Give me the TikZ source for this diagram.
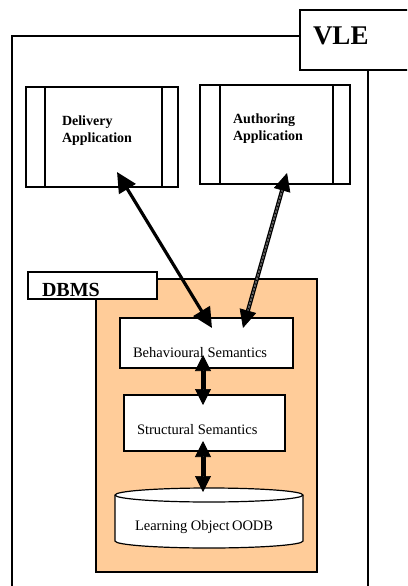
\documentclass[tikz,border=0pt]{standalone}
\usepackage{fontspec}
\setmainfont{Liberation Serif}
\usetikzlibrary{arrows.meta}
\definecolor{dbmsorange}{HTML}{FFCC99}
\begin{document}
\begin{tikzpicture}[x=1pt,y=-1pt,
  frame/.style={draw=black, line width=1.4pt},
  boxnode/.style={draw=black, line width=1.2pt, fill=white, inner sep=0pt, outer sep=0pt},
  txt/.style={inner sep=0pt, outer sep=0pt},
  apptxt/.style={inner sep=0pt, outer sep=0pt, align=left, anchor=north west,
                 font=\fontsize{14}{17}\selectfont\bfseries},
  semtxt/.style={inner sep=0pt, outer sep=0pt, anchor=base west,
                 font=\fontsize{14.5}{17}\selectfont},
  solidarrow/.style={line width=3.2pt, arrows={Triangle[length=20pt,width=19pt]-Triangle[length=20pt,width=19pt]}},
  dblline/.style={double=white, double distance=1.1pt, line width=1.5pt, shorten <=16pt, shorten >=16pt},
  midline/.style={line width=0.7pt, arrows={Triangle[length=18pt,width=17pt]-Triangle[length=18pt,width=17pt]}},
  vmidline/.style={line width=0.7pt, arrows={Triangle[length=16pt,width=16pt]-Triangle[length=16pt,width=16pt]}},
  vdblline/.style={double=white, double distance=1pt, line width=2pt, shorten <=14pt, shorten >=14pt}
]
\useasboundingbox (0,0) rectangle (407,586);
\clip (0,0) rectangle (407,586);

% VLE frame
\draw[frame] (300,36) -- (12,36) -- (12,600);
\draw[frame] (368,70) -- (368,600);
\node[boxnode, minimum width=120, minimum height=60] (vle) at (360,40) {};
\node[txt, anchor=base west, font=\fontsize{27}{30}\selectfont\bfseries] (vletxt) at (313,45) {VLE};

% Applications
\node[boxnode, minimum width=152, minimum height=100] (delivery) at (102,137) {};
\draw[line width=1.2pt] ([xshift=19]delivery.north west) -- ([xshift=19]delivery.south west);
\draw[line width=1.2pt] ([xshift=-16]delivery.north east) -- ([xshift=-16]delivery.south east);
\node[apptxt] (delivtxt) at (62,115.5) {Delivery\\Application};

\node[boxnode, minimum width=150, minimum height=99] (authoring) at (275,134.5) {};
\draw[line width=1.2pt] ([xshift=20]authoring.north west) -- ([xshift=20]authoring.south west);
\draw[line width=1.2pt] ([xshift=-17]authoring.north east) -- ([xshift=-17]authoring.south east);
\node[apptxt] (authtxt) at (233,113.5) {Authoring\\Application};

% DBMS area
\node[draw=black, line width=1.2pt, fill=dbmsorange, inner sep=0pt, outer sep=0pt,
      minimum width=221, minimum height=293] (dbmsarea) at (206.5,425.5) {};
\node[boxnode, minimum width=129, minimum height=27] (dbms) at (92.5,285.5) {};
\node[txt, anchor=base west, font=\fontsize{20}{22}\selectfont\bfseries] (dbmstxt) at (42,296.5) {DBMS};

\node[boxnode, minimum width=173, minimum height=50] (beh) at (206.5,343) {};
\node[semtxt] (behtxt) at (133,357) {Behavioural Semantics};

\node[boxnode, minimum width=161, minimum height=56] (struct) at (204.5,423) {};
\node[semtxt] (structtxt) at (137,434) {Structural Semantics};

% database cylinder
\node[inner sep=0pt, outer sep=0pt, minimum width=188, minimum height=60] (db) at (209,518) {};
\draw[line width=1.2pt, fill=white]
  (115,495) -- (115,541) arc[start angle=180, end angle=0, x radius=94, y radius=7]
  -- (303,495) arc[start angle=0, end angle=-180, x radius=94, y radius=7] -- cycle;
\draw[line width=1.2pt]
  (115,495) arc[start angle=180, end angle=0, x radius=94, y radius=7];
\node[semtxt] (dbtxt) at (135,530) {Learning Object\,OODB};

% connectors
\draw[solidarrow] ([shift={(5.5,10)}]beh.north) -- ([shift={(15,-15)}]delivery.south);

\draw[dblline] ([shift={(36.5,10)}]beh.north) -- ([shift={(12,-11)}]authoring.south);
\draw[midline] ([shift={(36.5,10)}]beh.north) -- ([shift={(12,-11)}]authoring.south);

\draw[vdblline] ([shift={(-3.5,12)}]beh.center) -- ([shift={(-1.5,10)}]struct.north);
\draw[vmidline] ([shift={(-3.5,12)}]beh.center) -- ([shift={(-1.5,10)}]struct.north);

\draw[vdblline] ([shift={(-1.5,-10)}]struct.south) -- ([shift={(-6,4)}]db.north);
\draw[vmidline] ([shift={(-1.5,-10)}]struct.south) -- ([shift={(-6,4)}]db.north);
\end{tikzpicture}
\end{document}
